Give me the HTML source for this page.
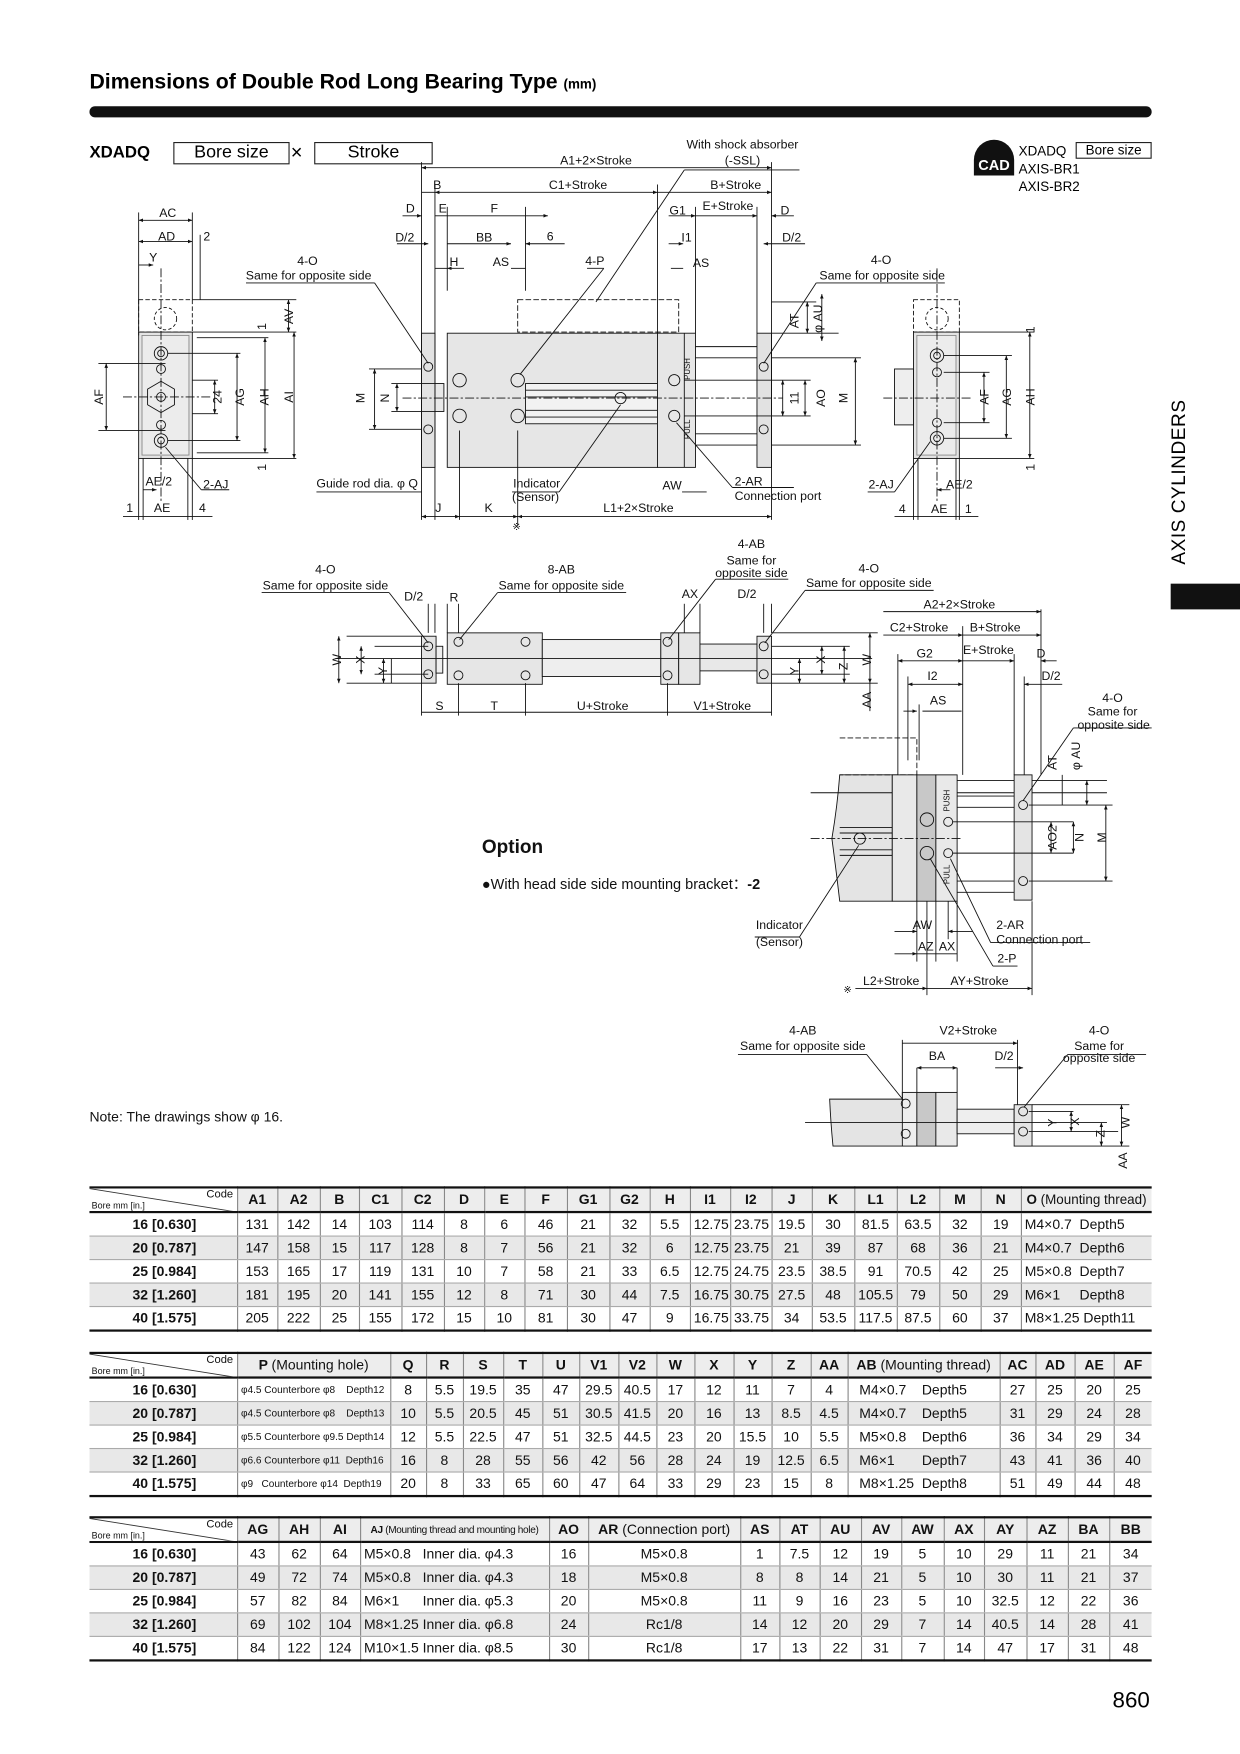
<!DOCTYPE html>
<html><head><meta charset="utf-8"><style>
html,body{margin:0;padding:0;background:#fff;}
body{width:1240px;height:1754px;overflow:hidden;position:relative;font-family:"Liberation Sans",sans-serif;}
#wrap{position:absolute;left:0;top:0;width:1109px;height:1569px;transform:scale(1.11813);transform-origin:0 0;}
.abs{position:absolute;}
table.t{position:absolute;left:80px;border-collapse:collapse;table-layout:fixed;font-size:12.5px;border-top:2px solid #111;border-bottom:2px solid #111;}
table.t td{height:20px;padding:0 3px;border-left:1px solid #888;text-align:center;white-space:nowrap;overflow:hidden;color:#111;}
table.t td:first-child{border-left:none;text-align:right;font-weight:bold;padding-right:36px;}
table.t tr.h td{background:#ededed;font-weight:bold;border-bottom:2px solid #111;}
table.t tr.g td{background:#e8e8e8;}
table.t tr td{border-bottom:1px solid #aaa;}
td.c{position:relative;background:#fff!important;}
td.c span.a{position:absolute;right:3px;top:0;font-size:10px;font-weight:normal;}
td.c span.b{position:absolute;left:2px;bottom:0;font-size:8px;font-weight:normal;}
td.c svg{position:absolute;left:0;top:0;}
.n{font-weight:normal;}
</style></head><body><div id="wrap">

<div class="abs" style="left:80px;top:63px;font-size:19px;font-weight:bold;">Dimensions of Double Rod Long Bearing Type <span style="font-size:12px">(mm)</span></div>
<div class="abs" style="left:80px;top:95px;width:950px;height:10px;background:#111;border-radius:5px;"></div>

<div class="abs" style="left:80px;top:128px;font-size:15px;font-weight:bold;">XDADQ</div>
<div class="abs" style="left:155px;top:127px;width:102px;height:18px;border:1px solid #222;font-size:16px;text-align:center;line-height:18px;">Bore size</div>
<div class="abs" style="left:260px;top:126px;font-size:18px;">×</div>
<div class="abs" style="left:281px;top:127px;width:104px;height:18px;border:1px solid #222;font-size:16px;text-align:center;line-height:18px;">Stroke</div>

<div class="abs" style="left:871px;top:125px;width:36px;height:32px;background:#111;border-radius:18px 18px 0 0;color:#fff;font-weight:bold;font-size:13px;text-align:center;line-height:46px;">CAD</div>
<div class="abs" style="left:911px;top:127px;font-size:12px;line-height:16px;">XDADQ<br>AXIS-BR1<br>AXIS-BR2</div>
<div class="abs" style="left:962px;top:127px;width:66px;height:13px;border:1px solid #222;font-size:12px;text-align:center;line-height:13px;">Bore size</div>

<div class="abs" style="left:1047px;top:522px;width:62px;height:23px;background:#111;"></div>
<div class="abs" style="left:1045px;top:505px;transform:rotate(-90deg);transform-origin:0 0;font-size:17px;white-space:nowrap;letter-spacing:0.5px;">AXIS CYLINDERS</div>

<svg class="abs" style="left:0;top:0" width="1109" height="1060" viewBox="0 0 1109 1060" font-family="Liberation Sans, sans-serif" font-size="11" fill="#111">
<defs><marker id="ar" markerWidth="6" markerHeight="6" refX="5" refY="3" orient="auto-start-reverse"><path d="M0,1 L5,3 L0,5 z" fill="#111"/></marker></defs>
<g stroke="#111" stroke-width="0.8" fill="none">
<rect x="124" y="268" width="48" height="29" stroke-dasharray="4,2"/>
<circle cx="148" cy="285" r="10" stroke-dasharray="3,2"/>
<rect x="124" y="297" width="48" height="113" fill="#e4e4e4"/>
<rect x="127" y="300" width="42" height="107" fill="#ececec" stroke="#888"/>
<circle cx="144" cy="316" r="6"/><circle cx="144" cy="316" r="3"/>
<circle cx="144" cy="330" r="4"/>
<polygon points="144,341 156,348 156,362 144,369 132,362 132,348"/>
<circle cx="144" cy="355" r="4"/>
<circle cx="144" cy="380" r="4"/>
<circle cx="144" cy="394" r="6"/><circle cx="144" cy="394" r="3"/>
<line x1="144" y1="240" x2="144" y2="450" stroke-dasharray="8,2,2,2"/>
<line x1="110" y1="355" x2="190" y2="355" stroke-dasharray="8,2,2,2"/>
<line x1="124" y1="190" x2="124" y2="300"/><line x1="172" y1="190" x2="172" y2="268"/><line x1="179" y1="210" x2="179" y2="268"/>
<line x1="124" y1="197" x2="172" y2="197" marker-start="url(#ar)" marker-end="url(#ar)"/>
<line x1="124" y1="216" x2="172" y2="216" marker-start="url(#ar)" marker-end="url(#ar)"/>
<line x1="124" y1="237" x2="137" y2="237" marker-end="url(#ar)"/>
<line x1="172" y1="268" x2="265" y2="268"/><line x1="172" y1="297" x2="265" y2="297"/><line x1="172" y1="410" x2="265" y2="410"/>
<line x1="176" y1="302" x2="240" y2="302"/><line x1="176" y1="405" x2="240" y2="405"/>
<line x1="258" y1="268" x2="258" y2="297" marker-start="url(#ar)" marker-end="url(#ar)"/>
<line x1="263" y1="297" x2="263" y2="410" marker-start="url(#ar)" marker-end="url(#ar)"/>
<line x1="237" y1="302" x2="237" y2="405" marker-start="url(#ar)" marker-end="url(#ar)"/>
<line x1="150" y1="316" x2="215" y2="316"/><line x1="150" y1="394" x2="215" y2="394"/>
<line x1="212" y1="316" x2="212" y2="394" marker-start="url(#ar)" marker-end="url(#ar)"/>
<line x1="172" y1="340" x2="195" y2="340"/><line x1="172" y1="370" x2="195" y2="370"/>
<line x1="192" y1="340" x2="192" y2="370" marker-start="url(#ar)" marker-end="url(#ar)"/>
<line x1="88" y1="325" x2="148" y2="325"/><line x1="88" y1="385" x2="148" y2="385"/>
<line x1="95" y1="325" x2="95" y2="385" marker-start="url(#ar)" marker-end="url(#ar)"/>
<line x1="128" y1="410" x2="128" y2="465"/><line x1="168" y1="410" x2="168" y2="465"/><line x1="124" y1="410" x2="124" y2="465"/><line x1="172" y1="410" x2="172" y2="465"/>
<line x1="128" y1="438" x2="140" y2="438" marker-end="url(#ar)"/>
<line x1="110" y1="462" x2="190" y2="462"/>
<line x1="148" y1="400" x2="180" y2="438"/><line x1="180" y1="438" x2="205" y2="438"/>
<rect x="463" y="268" width="144" height="29" stroke-dasharray="5,2"/>
<rect x="377" y="298" width="12" height="120" fill="#e2e2e2"/>
<rect x="389" y="343" width="8" height="25" fill="#e8e8e8"/>
<rect x="400" y="298" width="188" height="120" fill="#e6e6e6"/>
<rect x="470" y="343" width="118" height="36" fill="#f2f2f2"/>
<line x1="470" y1="349" x2="588" y2="349"/><line x1="470" y1="355" x2="588" y2="355"/><line x1="470" y1="367" x2="588" y2="367"/><line x1="470" y1="373" x2="588" y2="373"/>
<rect x="588" y="298" width="34" height="120" fill="#e6e6e6"/>
<line x1="612" y1="298" x2="612" y2="418"/>
<line x1="622" y1="310" x2="677" y2="310"/><line x1="622" y1="320" x2="677" y2="320"/><line x1="622" y1="388" x2="677" y2="388"/><line x1="622" y1="398" x2="677" y2="398"/>
<rect x="677" y="298" width="13" height="120" fill="#e2e2e2"/>
<line x1="360" y1="356" x2="700" y2="356" stroke-dasharray="8,2,2,2"/>
<circle cx="383" cy="328" r="4"/><circle cx="383" cy="384" r="4"/>
<circle cx="411" cy="340" r="6"/><circle cx="411" cy="372" r="6"/>
<circle cx="463" cy="340" r="6"/><circle cx="463" cy="372" r="6"/>
<circle cx="555" cy="356" r="5"/>
<circle cx="603" cy="340" r="5"/><circle cx="603" cy="372" r="5"/>
<circle cx="683" cy="328" r="4"/><circle cx="683" cy="384" r="4"/>
<line x1="377" y1="145" x2="377" y2="465"/><line x1="690" y1="145" x2="690" y2="465"/>
<line x1="389" y1="165" x2="389" y2="465"/><line x1="400" y1="185" x2="400" y2="260"/><line x1="470" y1="185" x2="470" y2="260"/>
<line x1="588" y1="165" x2="588" y2="298"/><line x1="622" y1="185" x2="622" y2="298"/><line x1="677" y1="185" x2="677" y2="298"/>
<line x1="377" y1="150" x2="690" y2="150" marker-start="url(#ar)" marker-end="url(#ar)"/>
<line x1="377" y1="172" x2="389" y2="172"/><line x1="389" y1="172" x2="588" y2="172" marker-start="url(#ar)" marker-end="url(#ar)"/><line x1="588" y1="172" x2="690" y2="172" marker-end="url(#ar)"/>
<line x1="360" y1="193" x2="377" y2="193" marker-end="url(#ar)"/><line x1="389" y1="193" x2="400" y2="193"/><line x1="400" y1="193" x2="490" y2="193" marker-end="url(#ar)"/>
<line x1="598" y1="193" x2="622" y2="193" marker-end="url(#ar)"/><line x1="622" y1="193" x2="677" y2="193" marker-end="url(#ar)"/><line x1="690" y1="193" x2="710" y2="193" marker-start="url(#ar)"/>
<line x1="355" y1="218" x2="383" y2="218" marker-end="url(#ar)"/><line x1="400" y1="218" x2="457" y2="218" marker-end="url(#ar)"/><line x1="470" y1="218" x2="505" y2="218" marker-start="url(#ar)"/>
<line x1="598" y1="218" x2="611" y2="218" marker-end="url(#ar)"/><line x1="683" y1="218" x2="720" y2="218" marker-start="url(#ar)"/>
<line x1="389" y1="240" x2="400" y2="240"/><line x1="400" y1="240" x2="415" y2="240" marker-start="url(#ar)"/>
<line x1="457" y1="240" x2="470" y2="240"/><line x1="600" y1="240" x2="611" y2="240"/>
<line x1="220" y1="253" x2="335" y2="253"/><line x1="335" y1="253" x2="383" y2="325"/>
<line x1="525" y1="240" x2="540" y2="240"/><line x1="540" y1="240" x2="465" y2="335"/>
<line x1="612" y1="152" x2="715" y2="152"/><line x1="612" y1="152" x2="533" y2="270"/>
<line x1="730" y1="253" x2="845" y2="253"/><line x1="730" y1="253" x2="683" y2="325"/>
<line x1="690" y1="298" x2="750" y2="298"/><line x1="690" y1="270" x2="730" y2="270"/>
<line x1="722" y1="270" x2="722" y2="298" marker-start="url(#ar)" marker-end="url(#ar)"/>
<line x1="735" y1="263" x2="735" y2="305" marker-start="url(#ar)" marker-end="url(#ar)"/>
<line x1="612" y1="340" x2="725" y2="340"/><line x1="612" y1="372" x2="725" y2="372"/>
<line x1="720" y1="340" x2="720" y2="372" marker-start="url(#ar)" marker-end="url(#ar)"/>
<line x1="700" y1="340" x2="700" y2="372" marker-start="url(#ar)" marker-end="url(#ar)"/>
<line x1="690" y1="320" x2="770" y2="320"/><line x1="690" y1="398" x2="770" y2="398"/>
<line x1="765" y1="320" x2="765" y2="398" marker-start="url(#ar)" marker-end="url(#ar)"/>
<line x1="330" y1="330" x2="377" y2="330"/><line x1="330" y1="384" x2="377" y2="384"/>
<line x1="335" y1="330" x2="335" y2="384" marker-start="url(#ar)" marker-end="url(#ar)"/>
<line x1="350" y1="343" x2="389" y2="343"/><line x1="350" y1="368" x2="389" y2="368"/>
<line x1="355" y1="343" x2="355" y2="368" marker-start="url(#ar)" marker-end="url(#ar)"/>
<line x1="283" y1="440" x2="377" y2="440"/>
<line x1="458" y1="440" x2="500" y2="440"/><line x1="500" y1="440" x2="555" y2="362"/>
<line x1="655" y1="436" x2="710" y2="436"/><line x1="655" y1="436" x2="605" y2="378"/>
<line x1="463" y1="385" x2="463" y2="470"/><line x1="411" y1="385" x2="411" y2="465"/>
<line x1="377" y1="462" x2="411" y2="462" marker-start="url(#ar)" marker-end="url(#ar)"/>
<line x1="411" y1="462" x2="463" y2="462" marker-end="url(#ar)"/>
<line x1="463" y1="462" x2="690" y2="462" marker-start="url(#ar)" marker-end="url(#ar)"/>
<line x1="610" y1="440" x2="632" y2="440"/>
<rect x="817" y="268" width="41" height="29" stroke-dasharray="4,2"/>
<circle cx="838" cy="285" r="10" stroke-dasharray="3,2"/>
<rect x="800" y="330" width="17" height="50" fill="#eee"/>
<rect x="817" y="297" width="41" height="113" fill="#e4e4e4"/>
<rect x="820" y="300" width="35" height="107" fill="#ececec" stroke="#888"/>
<circle cx="838" cy="318" r="6"/><circle cx="838" cy="318" r="3"/><circle cx="838" cy="333" r="4"/>
<circle cx="838" cy="378" r="4"/><circle cx="838" cy="392" r="6"/><circle cx="838" cy="392" r="3"/>
<line x1="838" y1="240" x2="838" y2="450" stroke-dasharray="8,2,2,2"/>
<line x1="790" y1="356" x2="870" y2="356" stroke-dasharray="8,2,2,2"/>
<line x1="858" y1="297" x2="925" y2="297"/><line x1="858" y1="410" x2="925" y2="410"/>
<line x1="921" y1="297" x2="921" y2="410" marker-start="url(#ar)" marker-end="url(#ar)"/>
<line x1="844" y1="318" x2="905" y2="318"/><line x1="844" y1="392" x2="905" y2="392"/>
<line x1="900" y1="318" x2="900" y2="392" marker-start="url(#ar)" marker-end="url(#ar)"/>
<line x1="844" y1="333" x2="885" y2="333"/><line x1="844" y1="378" x2="885" y2="378"/>
<line x1="880" y1="333" x2="880" y2="378" marker-start="url(#ar)" marker-end="url(#ar)"/>
<line x1="821" y1="410" x2="821" y2="465"/><line x1="855" y1="410" x2="855" y2="465"/><line x1="817" y1="410" x2="817" y2="465"/><line x1="858" y1="410" x2="858" y2="465"/>
<line x1="800" y1="462" x2="875" y2="462"/>
<line x1="776" y1="440" x2="800" y2="440"/><line x1="800" y1="440" x2="832" y2="395"/>
<line x1="838" y1="438" x2="850" y2="438" marker-start="url(#ar)"/>
<rect x="377" y="569" width="13" height="42" fill="#e4e4e4"/>
<rect x="390" y="578" width="6" height="24" fill="#eee"/>
<rect x="400" y="566" width="85" height="46" fill="#e6e6e6"/>
<rect x="485" y="572" width="106" height="33" fill="#eee"/>
<rect x="591" y="566" width="16" height="46" fill="#e6e6e6"/>
<rect x="607" y="566" width="19" height="46" fill="#e6e6e6"/>
<rect x="626" y="576" width="51" height="24" fill="#e8e8e8"/>
<rect x="677" y="569" width="13" height="42" fill="#e4e4e4"/>
<line x1="300" y1="589" x2="780" y2="589"/>
<line x1="310" y1="569" x2="377" y2="569"/><line x1="310" y1="611" x2="377" y2="611"/>
<line x1="335" y1="578" x2="383" y2="578"/><line x1="335" y1="603" x2="383" y2="603"/>
<line x1="350" y1="589" x2="350" y2="611"/>
<line x1="303" y1="569" x2="303" y2="611" marker-start="url(#ar)" marker-end="url(#ar)"/>
<line x1="323" y1="578" x2="323" y2="603" marker-start="url(#ar)" marker-end="url(#ar)"/>
<line x1="343" y1="589" x2="343" y2="611" marker-start="url(#ar)" marker-end="url(#ar)"/>
<circle cx="383" cy="578" r="4"/><circle cx="383" cy="603" r="4"/>
<circle cx="410" cy="574" r="4"/><circle cx="410" cy="604" r="4"/>
<circle cx="470" cy="574" r="4"/><circle cx="470" cy="604" r="4"/>
<circle cx="597" cy="574" r="4"/><circle cx="597" cy="604" r="4"/>
<circle cx="683" cy="578" r="4"/><circle cx="683" cy="603" r="4"/>
<line x1="690" y1="578" x2="760" y2="578"/><line x1="690" y1="603" x2="760" y2="603"/><line x1="690" y1="566" x2="785" y2="566"/><line x1="690" y1="611" x2="785" y2="611"/>
<line x1="735" y1="578" x2="735" y2="603" marker-start="url(#ar)" marker-end="url(#ar)"/>
<line x1="715" y1="589" x2="715" y2="611" marker-start="url(#ar)" marker-end="url(#ar)"/>
<line x1="755" y1="578" x2="755" y2="611" marker-start="url(#ar)" marker-end="url(#ar)"/>
<line x1="778" y1="566" x2="778" y2="611" marker-start="url(#ar)" marker-end="url(#ar)"/>
<line x1="778" y1="611" x2="778" y2="636"/>
<line x1="377" y1="611" x2="377" y2="640"/><line x1="410" y1="611" x2="410" y2="640"/><line x1="470" y1="611" x2="470" y2="640"/><line x1="597" y1="611" x2="597" y2="640"/><line x1="690" y1="611" x2="690" y2="640"/>
<line x1="377" y1="637" x2="690" y2="637"/>
<line x1="400" y1="540" x2="400" y2="566"/><line x1="389" y1="540" x2="389" y2="566"/><line x1="383" y1="540" x2="383" y2="566"/><line x1="410" y1="540" x2="410" y2="566"/>
<line x1="612" y1="540" x2="612" y2="566"/><line x1="626" y1="540" x2="626" y2="566"/>
<line x1="683" y1="540" x2="683" y2="566"/><line x1="690" y1="540" x2="690" y2="566"/>
<line x1="234" y1="530" x2="348" y2="530"/><line x1="348" y1="530" x2="383" y2="575"/>
<line x1="445" y1="530" x2="560" y2="530"/><line x1="445" y1="530" x2="411" y2="572"/>
<line x1="640" y1="518" x2="705" y2="518"/><line x1="640" y1="518" x2="598" y2="572"/>
<line x1="720" y1="528" x2="835" y2="528"/><line x1="720" y1="528" x2="684" y2="575"/>
<line x1="790" y1="547" x2="931" y2="547" marker-end="url(#ar)"/>
<line x1="790" y1="568" x2="861" y2="568" marker-end="url(#ar)"/><line x1="861" y1="568" x2="931" y2="568" marker-end="url(#ar)"/>
<line x1="803" y1="591" x2="861" y2="591" marker-start="url(#ar)" marker-end="url(#ar)"/><line x1="861" y1="591" x2="907" y2="591" marker-end="url(#ar)"/><line x1="931" y1="591" x2="945" y2="591" marker-start="url(#ar)"/>
<line x1="812" y1="612" x2="861" y2="612" marker-start="url(#ar)" marker-end="url(#ar)"/>
<line x1="808" y1="636" x2="820" y2="636" marker-end="url(#ar)"/><line x1="825" y1="636" x2="860" y2="636"/>
<line x1="916" y1="612" x2="950" y2="612" marker-start="url(#ar)"/>
<line x1="931" y1="545" x2="931" y2="693"/><line x1="861" y1="560" x2="861" y2="693"/><line x1="803" y1="585" x2="803" y2="693"/>
<line x1="907" y1="585" x2="907" y2="693"/><line x1="916" y1="605" x2="916" y2="693"/>
<line x1="812" y1="605" x2="812" y2="680"/><line x1="822" y1="630" x2="822" y2="680"/>
<path d="M751,693 L798,693 L798,806 L751,806 Q748,780 744,750 Q749,720 751,693 Z" fill="#e4e4e4"/>
<path d="M751,660 L820,660 L820,693 L751,693" stroke-dasharray="5,2"/>
<line x1="725" y1="709" x2="990" y2="709"/><line x1="825" y1="698" x2="990" y2="698"/><line x1="950" y1="693" x2="950" y2="720"/>
<rect x="798" y="693" width="22" height="113" fill="#e9e9e9"/>
<rect x="820" y="693" width="17" height="113" fill="#c8c8c8"/>
<rect x="837" y="693" width="19" height="113" fill="#e9e9e9"/>
<line x1="856" y1="712" x2="907" y2="712"/><line x1="856" y1="722" x2="907" y2="722"/><line x1="856" y1="788" x2="907" y2="788"/><line x1="856" y1="798" x2="907" y2="798"/>
<rect x="907" y="693" width="16" height="112" fill="#e4e4e4"/>
<line x1="751" y1="740" x2="798" y2="740"/><line x1="751" y1="745" x2="798" y2="745"/><line x1="751" y1="760" x2="798" y2="760"/><line x1="751" y1="765" x2="798" y2="765"/>
<line x1="725" y1="750" x2="860" y2="750" stroke-dasharray="8,2,2,2"/>
<circle cx="769" cy="750" r="5"/>
<circle cx="829" cy="733" r="6"/><circle cx="829" cy="763" r="6"/>
<circle cx="848" cy="735" r="4"/><circle cx="848" cy="763" r="4"/>
<circle cx="915" cy="720" r="4"/><circle cx="915" cy="788" r="4"/>
<line x1="852" y1="735" x2="960" y2="735"/><line x1="852" y1="763" x2="960" y2="763"/>
<line x1="940" y1="735" x2="940" y2="763" marker-start="url(#ar)" marker-end="url(#ar)"/>
<line x1="960" y1="735" x2="960" y2="763" marker-start="url(#ar)" marker-end="url(#ar)"/>
<line x1="920" y1="720" x2="995" y2="720"/><line x1="920" y1="788" x2="995" y2="788"/>
<line x1="989" y1="720" x2="989" y2="788" marker-start="url(#ar)" marker-end="url(#ar)"/>
<line x1="972" y1="698" x2="972" y2="720" marker-start="url(#ar)" marker-end="url(#ar)"/>
<line x1="960" y1="651" x2="1030" y2="651"/><line x1="960" y1="651" x2="915" y2="716"/>
<line x1="820" y1="806" x2="820" y2="860"/><line x1="829" y1="806" x2="829" y2="890"/><line x1="837" y1="806" x2="837" y2="860"/><line x1="848" y1="806" x2="848" y2="840"/><line x1="856" y1="806" x2="856" y2="860"/><line x1="923" y1="806" x2="923" y2="890"/>
<line x1="800" y1="833" x2="820" y2="833" marker-end="url(#ar)"/><line x1="848" y1="833" x2="870" y2="833" marker-start="url(#ar)"/>
<line x1="800" y1="853" x2="820" y2="853" marker-end="url(#ar)"/><line x1="820" y1="853" x2="856" y2="853"/>
<line x1="765" y1="884" x2="829" y2="884" marker-end="url(#ar)"/><line x1="829" y1="884" x2="923" y2="884" marker-end="url(#ar)"/>
<line x1="886" y1="843" x2="975" y2="843"/><line x1="886" y1="843" x2="850" y2="768"/>
<line x1="888" y1="864" x2="910" y2="864"/><line x1="888" y1="864" x2="832" y2="768"/>
<line x1="675" y1="838" x2="715" y2="838"/><line x1="715" y1="838" x2="768" y2="756"/>
<path d="M742,983 L820,983 L820,1025 L745,1025 Q743,1005 742,983 Z" fill="#e4e4e4"/>
<rect x="807" y="977" width="13" height="48" fill="#eee"/>
<rect x="820" y="977" width="17" height="48" fill="#c8c8c8"/>
<rect x="837" y="977" width="19" height="48" fill="#e9e9e9"/>
<rect x="856" y="992" width="51" height="22" fill="#eee"/>
<rect x="907" y="988" width="16" height="37" fill="#e4e4e4"/>
<circle cx="810" cy="987" r="4"/><circle cx="810" cy="1014" r="4"/>
<circle cx="915" cy="994" r="4"/><circle cx="915" cy="1012" r="4"/>
<line x1="720" y1="1004" x2="990" y2="1004"/>
<line x1="923" y1="988" x2="1010" y2="988"/><line x1="923" y1="1025" x2="1010" y2="1025"/><line x1="920" y1="994" x2="960" y2="994"/><line x1="920" y1="1012" x2="1000" y2="1012"/>
<line x1="1003" y1="988" x2="1003" y2="1025" marker-start="url(#ar)" marker-end="url(#ar)"/>
<line x1="958" y1="994" x2="958" y2="1012" marker-start="url(#ar)" marker-end="url(#ar)"/>
<line x1="985" y1="1004" x2="985" y2="1025" marker-start="url(#ar)" marker-end="url(#ar)"/>
<line x1="807" y1="930" x2="807" y2="983"/><line x1="910" y1="930" x2="910" y2="988"/>
<line x1="807" y1="933" x2="910" y2="933" marker-end="url(#ar)"/>
<line x1="820" y1="955" x2="820" y2="977"/><line x1="856" y1="955" x2="856" y2="977"/>
<line x1="820" y1="955" x2="856" y2="955" marker-start="url(#ar)" marker-end="url(#ar)"/>
<line x1="890" y1="955" x2="915" y2="955" marker-end="url(#ar)"/>
<line x1="660" y1="943" x2="775" y2="943"/><line x1="775" y1="943" x2="808" y2="984"/>
<line x1="955" y1="943" x2="1025" y2="943"/><line x1="955" y1="943" x2="916" y2="990"/>
</g>
<g>
<text x="150" y="194" text-anchor="middle">AC</text><text x="149" y="215" text-anchor="middle">AD</text><text x="185" y="215" text-anchor="middle">2</text><text x="137" y="234" text-anchor="middle">Y</text>
<text x="275" y="237" text-anchor="middle">4-O</text><text x="276" y="250" text-anchor="middle">Same for opposite side</text>
<text x="142" y="434" text-anchor="middle">AE/2</text><text x="193" y="437" text-anchor="middle">2-AJ</text>
<text x="116" y="458" text-anchor="middle">1</text><text x="145" y="458" text-anchor="middle">AE</text><text x="181" y="458" text-anchor="middle">4</text>
<text transform="translate(262,283) rotate(-90)" text-anchor="middle">AV</text>
<text transform="translate(238,292) rotate(-90)" text-anchor="middle">1</text>
<text transform="translate(238,418) rotate(-90)" text-anchor="middle">1</text>
<text transform="translate(262,355) rotate(-90)" text-anchor="middle">AI</text>
<text transform="translate(240,355) rotate(-90)" text-anchor="middle">AH</text>
<text transform="translate(218,355) rotate(-90)" text-anchor="middle">AG</text>
<text transform="translate(198,355) rotate(-90)" text-anchor="middle">24</text>
<text transform="translate(92,355) rotate(-90)" text-anchor="middle">AF</text>
<text x="533" y="147" text-anchor="middle">A1+2×Stroke</text>
<text x="664" y="133" text-anchor="middle">With shock absorber</text><text x="664" y="147" text-anchor="middle">(-SSL)</text>
<text x="391" y="169" text-anchor="middle">B</text><text x="517" y="169" text-anchor="middle">C1+Stroke</text><text x="658" y="169" text-anchor="middle">B+Stroke</text>
<text x="367" y="190" text-anchor="middle">D</text><text x="396" y="190" text-anchor="middle">E</text><text x="442" y="190" text-anchor="middle">F</text><text x="606" y="192" text-anchor="middle">G1</text><text x="651" y="188" text-anchor="middle">E+Stroke</text><text x="702" y="192" text-anchor="middle">D</text>
<text x="362" y="216" text-anchor="middle">D/2</text><text x="433" y="216" text-anchor="middle">BB</text><text x="492" y="215" text-anchor="middle">6</text><text x="614" y="216" text-anchor="middle">I1</text><text x="708" y="216" text-anchor="middle">D/2</text>
<text x="406" y="238" text-anchor="middle">H</text><text x="448" y="238" text-anchor="middle">AS</text><text x="532" y="237" text-anchor="middle">4-P</text><text x="627" y="239" text-anchor="middle">AS</text>
<text x="788" y="236" text-anchor="middle">4-O</text><text x="789" y="250" text-anchor="middle">Same for opposite side</text>
<text transform="translate(714,287) rotate(-90)" text-anchor="middle">AT</text>
<text transform="translate(735,285) rotate(-90)" text-anchor="middle">φ AU</text>
<text transform="translate(714,356) rotate(-90)" text-anchor="middle">11</text>
<text transform="translate(738,356) rotate(-90)" text-anchor="middle">AO</text>
<text transform="translate(758,356) rotate(-90)" text-anchor="middle">M</text>
<text transform="translate(326,356) rotate(-90)" text-anchor="middle">M</text>
<text transform="translate(348,356) rotate(-90)" text-anchor="middle">N</text>
<text transform="translate(617,330) rotate(-90)" text-anchor="middle" font-size="7">PUSH</text>
<text transform="translate(617,384) rotate(-90)" text-anchor="middle" font-size="7">PULL</text>
<text x="283" y="436">Guide rod dia. φ Q</text>
<text x="480" y="436" text-anchor="middle">Indicator</text><text x="479" y="448" text-anchor="middle">(Sensor)</text>
<text x="601" y="438" text-anchor="middle">AW</text>
<text x="657" y="434">2-AR</text><text x="657" y="447">Connection port</text>
<text x="392" y="458" text-anchor="middle">J</text><text x="437" y="458" text-anchor="middle">K</text><text x="571" y="458" text-anchor="middle">L1+2×Stroke</text>
<text x="462" y="474" text-anchor="middle" font-size="9">※</text>
<text x="788" y="437" text-anchor="middle">2-AJ</text><text x="858" y="437" text-anchor="middle">AE/2</text>
<text x="807" y="459" text-anchor="middle">4</text><text x="840" y="459" text-anchor="middle">AE</text><text x="866" y="459" text-anchor="middle">1</text>
<text transform="translate(925,295) rotate(-90)" text-anchor="middle">1</text>
<text transform="translate(925,418) rotate(-90)" text-anchor="middle">1</text>
<text transform="translate(925,355) rotate(-90)" text-anchor="middle">AH</text>
<text transform="translate(904,355) rotate(-90)" text-anchor="middle">AG</text>
<text transform="translate(884,355) rotate(-90)" text-anchor="middle">AF</text>
<text x="291" y="513" text-anchor="middle">4-O</text><text x="291" y="527" text-anchor="middle">Same for opposite side</text>
<text x="502" y="513" text-anchor="middle">8-AB</text><text x="502" y="527" text-anchor="middle">Same for opposite side</text>
<text x="672" y="490" text-anchor="middle">4-AB</text><text x="672" y="505" text-anchor="middle">Same for</text><text x="672" y="516" text-anchor="middle">opposite side</text>
<text x="777" y="512" text-anchor="middle">4-O</text><text x="777" y="525" text-anchor="middle">Same for opposite side</text>
<text x="370" y="537" text-anchor="middle">D/2</text><text x="406" y="538" text-anchor="middle">R</text><text x="617" y="535" text-anchor="middle">AX</text><text x="668" y="535" text-anchor="middle">D/2</text>
<text transform="translate(305,590) rotate(-90)" text-anchor="middle">W</text>
<text transform="translate(326,590) rotate(-90)" text-anchor="middle">X</text>
<text transform="translate(346,600) rotate(-90)" text-anchor="middle">Y</text>
<text transform="translate(714,600) rotate(-90)" text-anchor="middle">Y</text>
<text transform="translate(738,590) rotate(-90)" text-anchor="middle">X</text>
<text transform="translate(758,596) rotate(-90)" text-anchor="middle">Z</text>
<text transform="translate(779,590) rotate(-90)" text-anchor="middle">W</text>
<text transform="translate(779,626) rotate(-90)" text-anchor="middle">AA</text>
<text x="393" y="635" text-anchor="middle">S</text><text x="442" y="635" text-anchor="middle">T</text><text x="539" y="635" text-anchor="middle">U+Stroke</text><text x="646" y="635" text-anchor="middle">V1+Stroke</text>
<text x="858" y="544" text-anchor="middle">A2+2×Stroke</text>
<text x="822" y="565" text-anchor="middle">C2+Stroke</text><text x="890" y="565" text-anchor="middle">B+Stroke</text>
<text x="827" y="588" text-anchor="middle">G2</text><text x="884" y="585" text-anchor="middle">E+Stroke</text><text x="931" y="588" text-anchor="middle">D</text>
<text x="834" y="608" text-anchor="middle">I2</text><text x="940" y="608" text-anchor="middle">D/2</text>
<text x="839" y="630" text-anchor="middle">AS</text>
<text x="995" y="628" text-anchor="middle">4-O</text><text x="995" y="640" text-anchor="middle">Same for</text><text x="996" y="652" text-anchor="middle">opposite side</text>
<text transform="translate(945,682) rotate(-90)" text-anchor="middle">AT</text>
<text transform="translate(966,676) rotate(-90)" text-anchor="middle">φ AU</text>
<text transform="translate(945,749) rotate(-90)" text-anchor="middle">AO2</text>
<text transform="translate(969,749) rotate(-90)" text-anchor="middle">N</text>
<text transform="translate(989,749) rotate(-90)" text-anchor="middle">M</text>
<text transform="translate(849,716) rotate(-90)" text-anchor="middle" font-size="7">PUSH</text>
<text transform="translate(849,782) rotate(-90)" text-anchor="middle" font-size="7">PULL</text>
<text x="676" y="831">Indicator</text><text x="676" y="846">(Sensor)</text>
<text x="825" y="831" text-anchor="middle">AW</text><text x="891" y="831">2-AR</text><text x="891" y="844">Connection port</text>
<text x="828" y="850" text-anchor="middle">AZ</text><text x="847" y="850" text-anchor="middle">AX</text><text x="892" y="861">2-P</text>
<text x="797" y="881" text-anchor="middle">L2+Stroke</text><text x="876" y="881" text-anchor="middle">AY+Stroke</text>
<text x="758" y="888" text-anchor="middle" font-size="9">※</text>
<text x="431" y="763" font-size="17" font-weight="bold">Option</text>
<text x="431" y="795" font-size="13">●With head side side mounting bracket：<tspan font-weight="bold">-2</tspan></text>
<text x="718" y="925" text-anchor="middle">4-AB</text><text x="718" y="939" text-anchor="middle">Same for opposite side</text>
<text x="866" y="925" text-anchor="middle">V2+Stroke</text><text x="838" y="948" text-anchor="middle">BA</text><text x="898" y="948" text-anchor="middle">D/2</text>
<text x="983" y="925" text-anchor="middle">4-O</text><text x="983" y="939" text-anchor="middle">Same for</text><text x="983" y="950" text-anchor="middle">opposite side</text>
<text transform="translate(945,1004) rotate(-90)" text-anchor="middle">Y</text>
<text transform="translate(965,1003) rotate(-90)" text-anchor="middle">X</text>
<text transform="translate(988,1014) rotate(-90)" text-anchor="middle">Z</text>
<text transform="translate(1010,1004) rotate(-90)" text-anchor="middle">W</text>
<text transform="translate(1008,1038) rotate(-90)" text-anchor="middle">AA</text>
<text x="80" y="1003" font-size="12.5">Note: The drawings show φ 16.</text>
</g>
</svg>

<table class="t" style="top:1061px;width:950px;">
<colgroup><col style="width:132px"><col style="width:36px"><col style="width:38px"><col style="width:35px"><col style="width:38px"><col style="width:38px"><col style="width:36px"><col style="width:36px"><col style="width:38px"><col style="width:38px"><col style="width:36px"><col style="width:36px"><col style="width:36px"><col style="width:37px"><col style="width:36px"><col style="width:38px"><col style="width:38px"><col style="width:38px"><col style="width:37px"><col style="width:36px"><col style="width:117px"></colgroup>
<tr class="h"><td class="c"><svg width="132" height="21"><line x1="0" y1="0" x2="132" y2="21" stroke="#333" stroke-width="0.8"/></svg><span class="a">Code</span><span class="b">Bore mm [in.]</span></td><td>A1</td><td>A2</td><td>B</td><td>C1</td><td>C2</td><td>D</td><td>E</td><td>F</td><td>G1</td><td>G2</td><td>H</td><td>I1</td><td>I2</td><td>J</td><td>K</td><td>L1</td><td>L2</td><td>M</td><td>N</td><td style="font-size:12px">O <span class="n">(Mounting thread)</span></td></tr>
<tr><td>16 [0.630]</td><td>131</td><td>142</td><td>14</td><td>103</td><td>114</td><td>8</td><td>6</td><td>46</td><td>21</td><td>32</td><td>5.5</td><td>12.75</td><td>23.75</td><td>19.5</td><td>30</td><td>81.5</td><td>63.5</td><td>32</td><td>19</td><td style="text-align:left">M4×0.7 &nbsp;Depth5</td></tr>
<tr class="g"><td>20 [0.787]</td><td>147</td><td>158</td><td>15</td><td>117</td><td>128</td><td>8</td><td>7</td><td>56</td><td>21</td><td>32</td><td>6</td><td>12.75</td><td>23.75</td><td>21</td><td>39</td><td>87</td><td>68</td><td>36</td><td>21</td><td style="text-align:left">M4×0.7 &nbsp;Depth6</td></tr>
<tr><td>25 [0.984]</td><td>153</td><td>165</td><td>17</td><td>119</td><td>131</td><td>10</td><td>7</td><td>58</td><td>21</td><td>33</td><td>6.5</td><td>12.75</td><td>24.75</td><td>23.5</td><td>38.5</td><td>91</td><td>70.5</td><td>42</td><td>25</td><td style="text-align:left">M5×0.8 &nbsp;Depth7</td></tr>
<tr class="g"><td>32 [1.260]</td><td>181</td><td>195</td><td>20</td><td>141</td><td>155</td><td>12</td><td>8</td><td>71</td><td>30</td><td>44</td><td>7.5</td><td>16.75</td><td>30.75</td><td>27.5</td><td>48</td><td>105.5</td><td>79</td><td>50</td><td>29</td><td style="text-align:left">M6×1 &nbsp;&nbsp;&nbsp;&nbsp;Depth8</td></tr>
<tr><td>40 [1.575]</td><td>205</td><td>222</td><td>25</td><td>155</td><td>172</td><td>15</td><td>10</td><td>81</td><td>30</td><td>47</td><td>9</td><td>16.75</td><td>33.75</td><td>34</td><td>53.5</td><td>117.5</td><td>87.5</td><td>60</td><td>37</td><td style="text-align:left">M8×1.25 Depth11</td></tr>
</table>

<table class="t" style="top:1209px;width:950px;">
<colgroup><col style="width:132px"><col style="width:137px"><col style="width:32px"><col style="width:33px"><col style="width:36px"><col style="width:35px"><col style="width:33px"><col style="width:35px"><col style="width:34px"><col style="width:34px"><col style="width:35px"><col style="width:34px"><col style="width:35px"><col style="width:33px"><col style="width:136px"><col style="width:32px"><col style="width:35px"><col style="width:35px"><col style="width:34px"></colgroup>
<tr class="h"><td class="c"><svg width="132" height="21"><line x1="0" y1="0" x2="132" y2="21" stroke="#333" stroke-width="0.8"/></svg><span class="a">Code</span><span class="b">Bore mm [in.]</span></td><td>P <span class="n">(Mounting hole)</span></td><td>Q</td><td>R</td><td>S</td><td>T</td><td>U</td><td>V1</td><td>V2</td><td>W</td><td>X</td><td>Y</td><td>Z</td><td>AA</td><td>AB <span class="n">(Mounting thread)</span></td><td>AC</td><td>AD</td><td>AE</td><td>AF</td></tr>
<tr><td>16 [0.630]</td><td style="font-size:9px;text-align:left">φ4.5 Counterbore φ8 &nbsp;&nbsp;&nbsp;Depth12</td><td>8</td><td>5.5</td><td>19.5</td><td>35</td><td>47</td><td>29.5</td><td>40.5</td><td>17</td><td>12</td><td>11</td><td>7</td><td>4</td><td style="text-align:left;padding-left:10px">M4×0.7 &nbsp;&nbsp;&nbsp;Depth5</td><td>27</td><td>25</td><td>20</td><td>25</td></tr>
<tr class="g"><td>20 [0.787]</td><td style="font-size:9px;text-align:left">φ4.5 Counterbore φ8 &nbsp;&nbsp;&nbsp;Depth13</td><td>10</td><td>5.5</td><td>20.5</td><td>45</td><td>51</td><td>30.5</td><td>41.5</td><td>20</td><td>16</td><td>13</td><td>8.5</td><td>4.5</td><td style="text-align:left;padding-left:10px">M4×0.7 &nbsp;&nbsp;&nbsp;Depth5</td><td>31</td><td>29</td><td>24</td><td>28</td></tr>
<tr><td>25 [0.984]</td><td style="font-size:9px;text-align:left">φ5.5 Counterbore φ9.5 Depth14</td><td>12</td><td>5.5</td><td>22.5</td><td>47</td><td>51</td><td>32.5</td><td>44.5</td><td>23</td><td>20</td><td>15.5</td><td>10</td><td>5.5</td><td style="text-align:left;padding-left:10px">M5×0.8 &nbsp;&nbsp;&nbsp;Depth6</td><td>36</td><td>34</td><td>29</td><td>34</td></tr>
<tr class="g"><td>32 [1.260]</td><td style="font-size:9px;text-align:left">φ6.6 Counterbore φ11 &nbsp;Depth16</td><td>16</td><td>8</td><td>28</td><td>55</td><td>56</td><td>42</td><td>56</td><td>28</td><td>24</td><td>19</td><td>12.5</td><td>6.5</td><td style="text-align:left;padding-left:10px">M6×1 &nbsp;&nbsp;&nbsp;&nbsp;&nbsp;&nbsp;Depth7</td><td>43</td><td>41</td><td>36</td><td>40</td></tr>
<tr><td>40 [1.575]</td><td style="font-size:9px;text-align:left">φ9 &nbsp;&nbsp;Counterbore φ14 &nbsp;Depth19</td><td>20</td><td>8</td><td>33</td><td>65</td><td>60</td><td>47</td><td>64</td><td>33</td><td>29</td><td>23</td><td>15</td><td>8</td><td style="text-align:left;padding-left:10px">M8×1.25 &nbsp;Depth8</td><td>51</td><td>49</td><td>44</td><td>48</td></tr>
</table>

<table class="t" style="top:1356px;width:950px;">
<colgroup><col style="width:132px"><col style="width:37px"><col style="width:37px"><col style="width:36px"><col style="width:169px"><col style="width:35px"><col style="width:136px"><col style="width:35px"><col style="width:36px"><col style="width:37px"><col style="width:36px"><col style="width:38px"><col style="width:36px"><col style="width:38px"><col style="width:37px"><col style="width:37px"><col style="width:38px"></colgroup>
<tr class="h"><td class="c"><svg width="132" height="21"><line x1="0" y1="0" x2="132" y2="21" stroke="#333" stroke-width="0.8"/></svg><span class="a">Code</span><span class="b">Bore mm [in.]</span></td><td>AG</td><td>AH</td><td>AI</td><td style="font-size:9px;padding:0 1px;letter-spacing:-0.3px">AJ <span class="n">(Mounting thread and mounting hole)</span></td><td>AO</td><td>AR <span class="n">(Connection port)</span></td><td>AS</td><td>AT</td><td>AU</td><td>AV</td><td>AW</td><td>AX</td><td>AY</td><td>AZ</td><td>BA</td><td>BB</td></tr>
<tr><td>16 [0.630]</td><td>43</td><td>62</td><td>64</td><td style="text-align:left">M5×0.8 &nbsp;&nbsp;Inner dia. φ4.3</td><td>16</td><td>M5×0.8</td><td>1</td><td>7.5</td><td>12</td><td>19</td><td>5</td><td>10</td><td>29</td><td>11</td><td>21</td><td>34</td></tr>
<tr class="g"><td>20 [0.787]</td><td>49</td><td>72</td><td>74</td><td style="text-align:left">M5×0.8 &nbsp;&nbsp;Inner dia. φ4.3</td><td>18</td><td>M5×0.8</td><td>8</td><td>8</td><td>14</td><td>21</td><td>5</td><td>10</td><td>30</td><td>11</td><td>21</td><td>37</td></tr>
<tr><td>25 [0.984]</td><td>57</td><td>82</td><td>84</td><td style="text-align:left">M6×1 &nbsp;&nbsp;&nbsp;&nbsp;&nbsp;Inner dia. φ5.3</td><td>20</td><td>M5×0.8</td><td>11</td><td>9</td><td>16</td><td>23</td><td>5</td><td>10</td><td>32.5</td><td>12</td><td>22</td><td>36</td></tr>
<tr class="g"><td>32 [1.260]</td><td>69</td><td>102</td><td>104</td><td style="text-align:left">M8×1.25 Inner dia. φ6.8</td><td>24</td><td>Rc1/8</td><td>14</td><td>12</td><td>20</td><td>29</td><td>7</td><td>14</td><td>40.5</td><td>14</td><td>28</td><td>41</td></tr>
<tr><td>40 [1.575]</td><td>84</td><td>122</td><td>124</td><td style="text-align:left">M10×1.5 Inner dia. φ8.5</td><td>30</td><td>Rc1/8</td><td>17</td><td>13</td><td>22</td><td>31</td><td>7</td><td>14</td><td>47</td><td>17</td><td>31</td><td>48</td></tr>
</table>

<div class="abs" style="left:995px;top:1510px;font-size:20px;">860</div>
</div></body></html>
